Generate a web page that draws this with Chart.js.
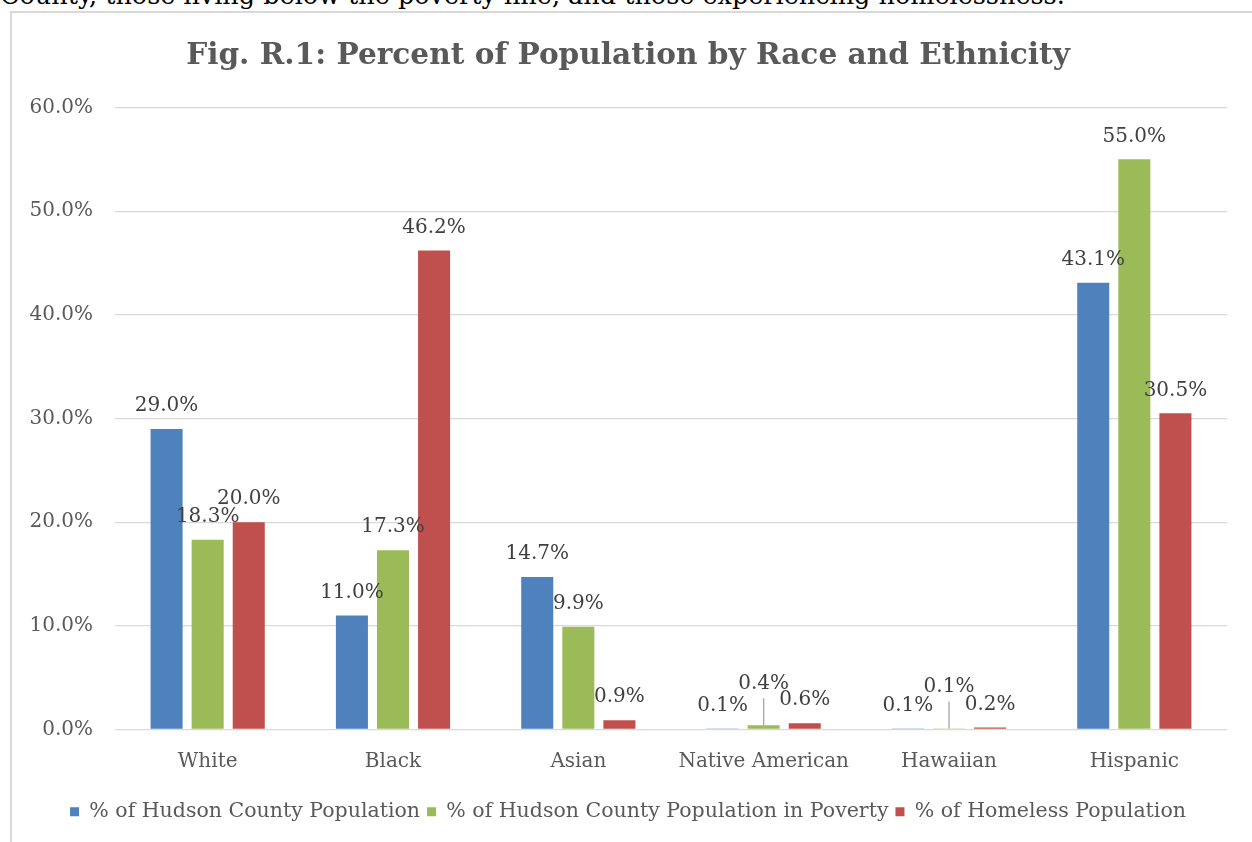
<!DOCTYPE html>
<html>
<head>
<meta charset="utf-8">
<script src="https://cdn.jsdelivr.net/npm/chart.js@4.4.1/dist/chart.umd.min.js"></script>
<style>
  html, body { margin: 0; padding: 0; background: #fff; overflow: hidden; }
  body { width: 1252px; height: 842px; position: relative; }
  .above {
    position: absolute; left: 0; top: -20px; white-space: nowrap;
    font-family: "DejaVu Serif", serif; font-size: 25.5px; color: #000;
  }
  .frame {
    position: absolute; left: 10px; top: 11px; width: 1300px; height: 900px;
    border: 2px solid #d9d9d9; box-sizing: border-box;
  }
  #chart { position: absolute; left: 0; top: 0; }
</style>
</head>
<body>
<div class="above">County, those living below the poverty line, and those experiencing homelessness.</div>
<div class="frame"></div>
<canvas id="chart" width="1252" height="842"></canvas>
<script>
const categories = ["White", "Black", "Asian", "Native American", "Hawaiian", "Hispanic"];
const countyPopulation = [29.0, 11.0, 14.7, 0.1, 0.1, 43.1];
const povertyPopulation = [18.3, 17.3, 9.9, 0.4, 0.1, 55.0];
const homelessPopulation = [20.0, 46.2, 0.9, 0.6, 0.2, 30.5];
const seriesNames = [
  "% of Hudson County Population",
  "% of Hudson County Population in Poverty",
  "% of Homeless Population"
];

const FONT = "'DejaVu Serif', serif";

// labels above each bar; the middle one is lifted with a leader line when crowded
const barLabels = {
  id: "barLabels",
  afterDatasetsDraw(chart) {
    const ctx = chart.ctx;
    ctx.save();
    ctx.font = "20px " + FONT;
    ctx.fillStyle = "#404040";
    ctx.textAlign = "center";
    ctx.textBaseline = "middle";
    const metas = chart.data.datasets.map((d, i) => chart.getDatasetMeta(i));
    categories.forEach((c, i) => {
      const ys = metas.map(m => m.data[i].y - 23);
      metas.forEach((m, di) => {
        const bar = m.data[i];
        let y = ys[di];
        if (di === 1 && Math.abs(ys[1] - ys[0]) < 12 && Math.abs(ys[1] - ys[2]) < 12) {
          y -= 19;
          ctx.strokeStyle = "#a6a6a6";
          ctx.lineWidth = 1.3;
          ctx.beginPath();
          ctx.moveTo(bar.x, y + 15);
          ctx.lineTo(bar.x, bar.y);
          ctx.stroke();
        }
        const v = chart.data.datasets[di].data[i];
        ctx.fillText(v.toFixed(1) + "%", bar.x, y);
      });
    });
    ctx.restore();
  }
};

new Chart(document.getElementById("chart"), {
  type: "bar",
  data: {
    labels: categories,
    datasets: [
      { label: seriesNames[0], data: countyPopulation, backgroundColor: "#4f81bd" },
      { label: seriesNames[1], data: povertyPopulation, backgroundColor: "#9bbb59" },
      { label: seriesNames[2], data: homelessPopulation, backgroundColor: "#c0504d" }
    ]
  },
  options: {
    responsive: false,
    animation: false,
    layout: { padding: { left: 29, right: 25, top: 0, bottom: 10 } },
    datasets: { bar: { categoryPercentage: 0.665, barPercentage: 0.78 } },
    plugins: {
      title: {
        display: true,
        text: "Fig. R.1: Percent of Population by Race and Ethnicity",
        color: "#595959",
        font: { family: FONT, size: 29.6, weight: "bold" },
        padding: { top: 39, bottom: 33 }
      },
      legend: {
        position: "bottom",
        labels: {
          color: "#595959",
          font: { family: FONT, size: 20.5 },
          boxWidth: 9,
          boxHeight: 9,
          padding: 7
        }
      },
      tooltip: { enabled: false }
    },
    scales: {
      x: {
        grid: { display: false },
        border: { display: false },
        afterFit(scale) { scale.height += 9; },
        ticks: { color: "#595959", font: { family: FONT, size: 20 }, padding: 12 }
      },
      y: {
        min: 0,
        max: 60,
        afterFit(scale) { scale.width = 86; },
        grid: { color: "#d9d9d9", lineWidth: 1.3, drawTicks: false },
        border: { display: false },
        ticks: {
          stepSize: 10,
          padding: 22,
          color: "#595959",
          font: { family: FONT, size: 20 },
          callback: v => v.toFixed(1) + "%"
        }
      }
    }
  },
  plugins: [barLabels]
});
</script>
</body>
</html>
